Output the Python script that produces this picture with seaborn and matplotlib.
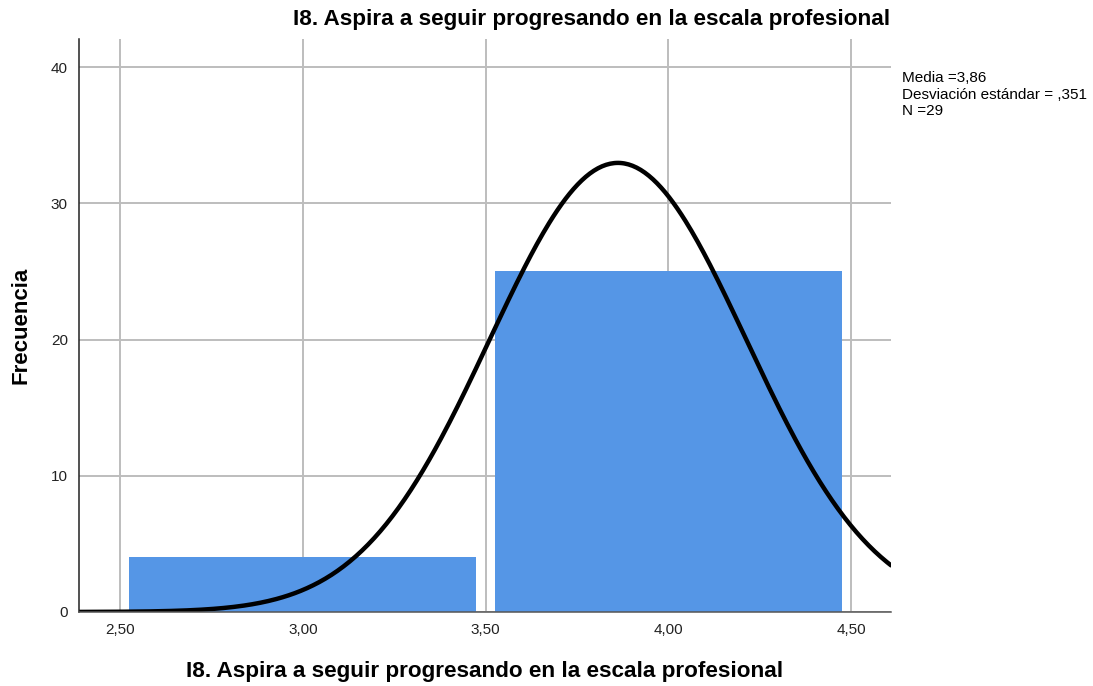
import numpy as np
import pandas as pd
import matplotlib
matplotlib.use("Agg")
import matplotlib.pyplot as plt
import seaborn as sns

# Response values and how many respondents gave each
valores = [3, 4]
frecuencias = [4, 25]
xticks = [2.5, 3.0, 3.5, 4.0, 4.5]
yticks = [0, 10, 20, 30, 40]
titulo = "I8. Aspira a seguir progresando en la escala profesional"

datos = pd.DataFrame({"I8": np.repeat(valores, frecuencias).astype(float)})
media = datos["I8"].mean()
desv = datos["I8"].std(ddof=1)
n = len(datos)

sns.set_theme(style="white")
plt.rcParams["font.family"] = ["Liberation Sans", "DejaVu Sans"]

fig = plt.figure(figsize=(10.93, 6.86), dpi=100)
ax = fig.add_axes([0.0723, 0.1079, 0.7429, 0.8352])

ax.set_axisbelow(True)
ax.grid(True, color="#bdbdbd", linewidth=1.4)

sns.histplot(data=datos, x="I8", discrete=True, shrink=0.95, ax=ax,
             color="#5596e6", alpha=1.0, edgecolor="none", linewidth=0)

# Normal curve scaled to counts (bin width 1)
xs = np.linspace(2.388, 4.609, 400)
ys = n * 1.0 / (desv * np.sqrt(2 * np.pi)) * np.exp(-0.5 * ((xs - media) / desv) ** 2)
sns.lineplot(x=xs, y=ys, ax=ax, color="black", linewidth=3.2)

ax.set_xlim(2.388, 4.609)
ax.set_ylim(0, 42.06)
ax.set_xticks(xticks)
ax.set_xticklabels([f"{t:.2f}".replace(".", ",") for t in xticks], fontsize=11)
ax.set_yticks(yticks)
ax.set_yticklabels([str(t) for t in yticks], fontsize=11)
ax.tick_params(axis="both", length=0, colors="#222222")
ax.tick_params(axis="x", pad=8)
ax.tick_params(axis="y", pad=8)

for s in ["top", "right"]:
    ax.spines[s].set_visible(False)
ax.spines["left"].set_color("#222222")
ax.spines["left"].set_linewidth(1.1)
ax.spines["bottom"].set_color("#555555")
ax.spines["bottom"].set_linewidth(1.1)

ax.set_xlabel(titulo, fontsize=16.2, fontweight="bold", labelpad=17, color="black")
ax.set_ylabel("Frecuencia", fontsize=16, fontweight="bold", labelpad=14, color="black")

fig.text(0.541, 0.971, titulo, ha="center", va="center",
         fontsize=16.2, fontweight="bold", color="black")

estad = (f"Media ={media:.2f}".replace(".", ",") + "\n"
         + f"Desviación estándar = {desv:.3f}".replace("0.", ",") + "\n"
         + f"N ={n}")
fig.text(0.825, 0.896, estad, ha="left", va="top", fontsize=11,
         linespacing=1.2, color="black")

fig.savefig("out.png", dpi=100)
